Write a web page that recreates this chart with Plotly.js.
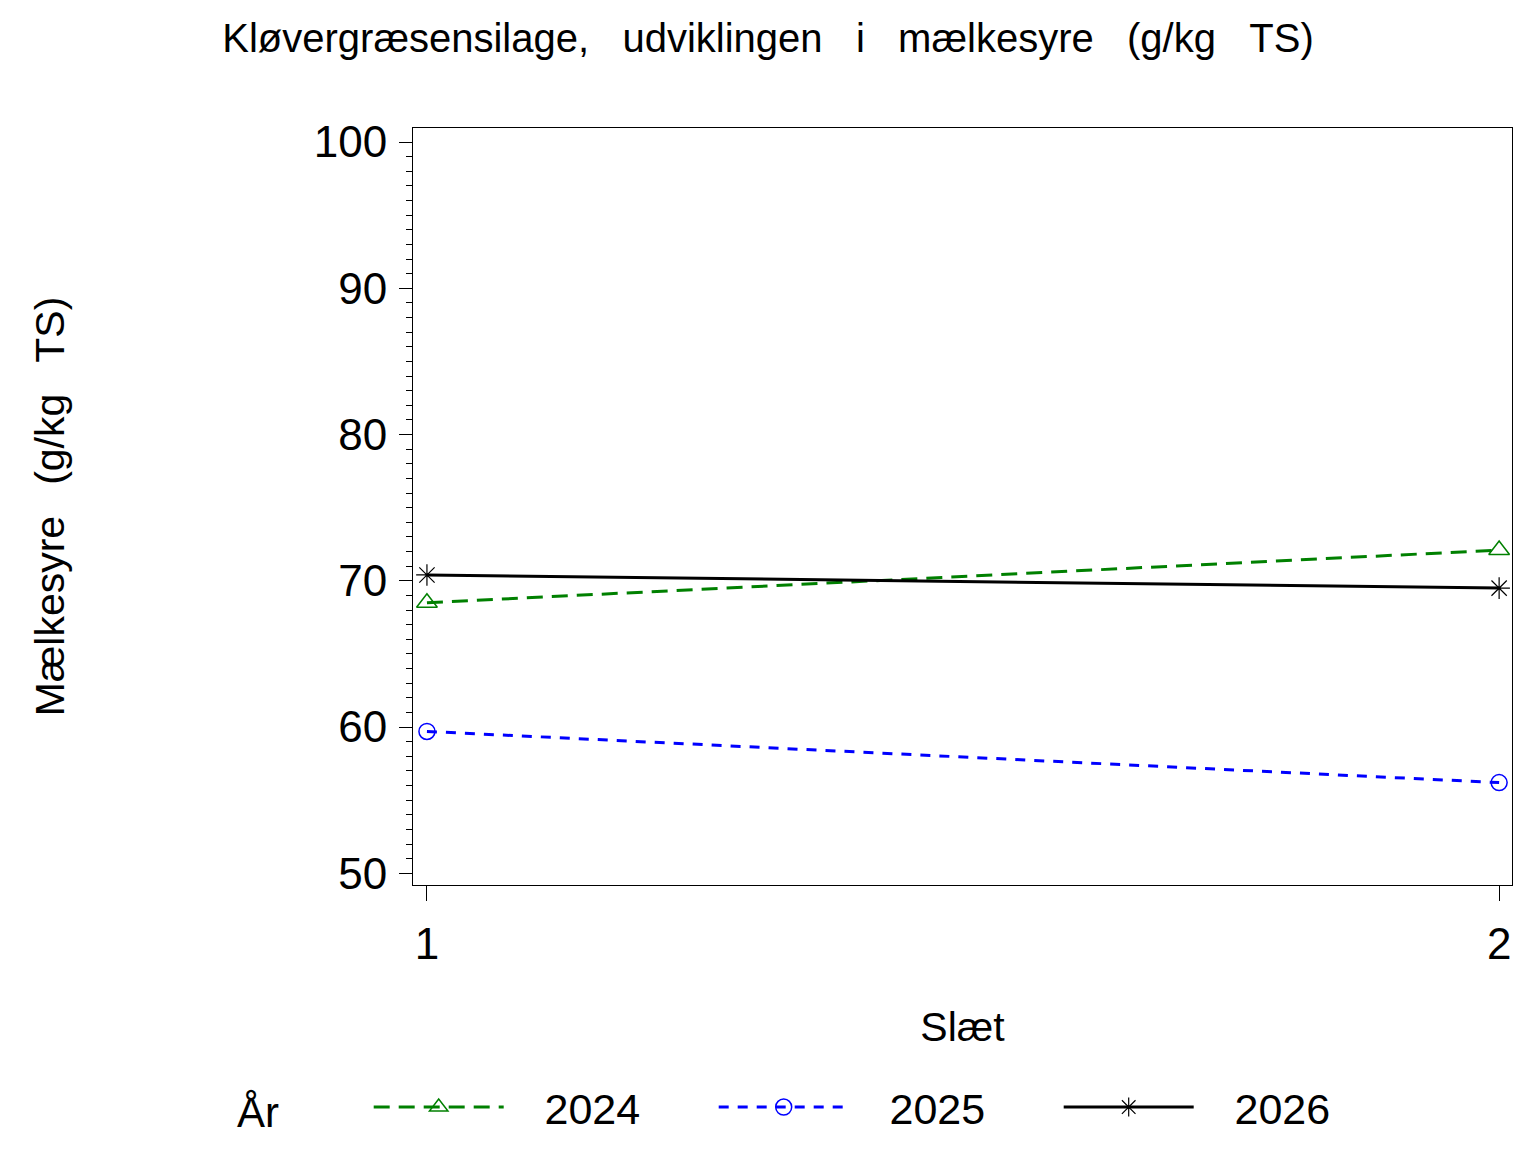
<!DOCTYPE html>
<html>
<head>
<meta charset="utf-8">
<script src="https://cdn.plot.ly/plotly-3.0.1.min.js"></script>
<style>
  body { margin: 0; background: #fff; }
  #chart { width: 1536px; height: 1152px; }
</style>
</head>
<body>
<div id="chart"></div>
<script>
// Slæt (x) and mælkesyre per år
let slaet = [1, 2];
let years = ['2024', '2025', '2026'];
let y2024 = [68.5, 72.1];
let y2025 = [59.7, 56.2];
let y2026 = [70.4, 69.5];

let font = 'Liberation Sans, Arial, sans-serif';
let nb = '\u00a0';
let pre = nb.repeat(3);

let trace1 = {
  x: slaet,
  y: y2024,
  name: pre + years[0],
  type: 'scatter',
  mode: 'lines+markers',
  line: { color: '#008000', width: 3, dash: '16px,9px' },
  marker: { symbol: 'triangle-up-open', size: 18, color: '#008000', line: { width: 1.5 } }
};

let trace2 = {
  x: slaet,
  y: y2025,
  name: pre + years[1],
  type: 'scatter',
  mode: 'lines+markers',
  line: { color: '#0000ff', width: 3, dash: '10px,9px' },
  marker: { symbol: 'circle-open', size: 16, color: '#0000ff', line: { width: 1.5 } }
};

let trace3 = {
  x: slaet,
  y: y2026,
  name: pre + years[2],
  type: 'scatter',
  mode: 'lines+markers',
  line: { color: '#000000', width: 3 },
  marker: { symbol: 'asterisk-open', size: 18, color: '#000000', line: { width: 1.2 } }
};

let data = [trace1, trace2, trace3];

let layout = {
  width: 1536,
  height: 1152,
  margin: { l: 413, r: 24, t: 128, b: 267 },
  paper_bgcolor: '#ffffff',
  plot_bgcolor: '#ffffff',
  font: { family: font, size: 40, color: '#000' },
  title: {
    text: ['Kløvergræsensilage,', 'udviklingen', 'i', 'mælkesyre', '(g/kg', 'TS)'].join(nb.repeat(3)),
    font: { size: 40, color: '#000' },
    x: 0.5,
    xanchor: 'center',
    y: 0.967,
    yanchor: 'middle'
  },
  xaxis: {
    range: [0.987, 2.012],
    tickvals: slaet,
    ticktext: ['1', '2'],
    tickfont: { size: 44 },
    ticks: 'outside',
    ticklen: 15,
    tickwidth: 1,
    tickcolor: '#000',
    ticklabelstandoff: 5,
    showline: true,
    linecolor: '#000',
    linewidth: 1,
    mirror: true,
    showgrid: false,
    zeroline: false,
    automargin: false,
    title: { text: 'Slæt', standoff: 45, font: { size: 41 } }
  },
  yaxis: {
    range: [49.2, 100.96],
    dtick: 10,
    tick0: 50,
    tickfont: { size: 44 },
    ticks: 'outside',
    ticklen: 13,
    tickwidth: 1,
    tickcolor: '#000',
    ticklabelstandoff: 3,
    minor: { dtick: 1, ticks: 'outside', ticklen: 6, tickcolor: '#000', tickwidth: 1, showgrid: false },
    showline: true,
    linecolor: '#000',
    linewidth: 1,
    mirror: true,
    showgrid: false,
    zeroline: false,
    automargin: false,
    title: {
      text: ['Mælkesyre', '(g/kg', 'TS)'].join(nb + '\u2009' + nb),
      standoff: 236,
      font: { size: 41 }
    }
  },
  showlegend: true,
  legend: {
    orientation: 'h',
    xref: 'container',
    yref: 'container',
    x: 0.153,
    xanchor: 'left',
    y: 0.039,
    yanchor: 'middle',
    title: { text: 'År' + nb.repeat(7), side: 'left', font: { size: 42 } },
    font: { size: 43 },
    itemwidth: 130,
    entrywidth: 200,
    entrywidthmode: 'pixels',
    bgcolor: 'rgba(0,0,0,0)'
  }
};

let config = { staticPlot: true };

Plotly.newPlot('chart', data, layout, config);
</script>
</body>
</html>
